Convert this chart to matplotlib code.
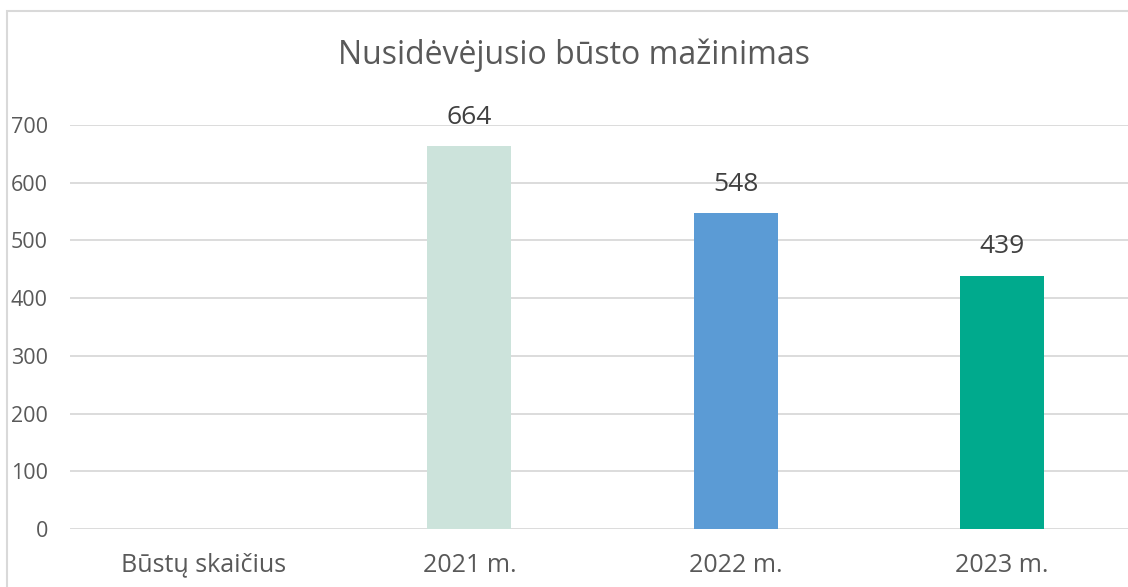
import matplotlib.pyplot as plt
from matplotlib.patches import Rectangle

categories = ['Būstų skaičius', '2021 m.', '2022 m.', '2023 m.']
values = [None, 664, 548, 439]
colors = ['#FFFFFF', '#CCE3DB', '#5B9BD5', '#00AA8D']
title = 'Nusidėvėjusio būsto mažinimas'

plt.rcParams['font.family'] = ['Open Sans', 'DejaVu Sans']

fig = plt.figure(figsize=(11.28, 5.87), dpi=100)
W, H = 1128, 587
ax = fig.add_axes([70 / W, 1 - 529 / H, (1135 - 70) / W, (529 - 125) / H])

# border round the chart, cut off at right and bottom like the screenshot
fig.patches.append(Rectangle((7 / W, -0.1), 1.2, 1 - 11 / H + 0.1,
                             transform=fig.transFigure, fill=False,
                             edgecolor='#D9D9D9', linewidth=1.5))

x = range(len(categories))
for i, v in enumerate(values):
    if v is None:
        continue
    ax.bar(i, v, width=0.316, color=colors[i], zorder=2)
    ax.text(i, v + 28, str(v), ha='center', va='bottom',
            fontsize=19, color='#404040')

ax.set_xlim(-0.5, len(categories) - 0.5)
ax.set_ylim(0, 700)
ax.set_yticks(range(0, 701, 100))
ax.set_xticks(list(x))
ax.set_xticklabels(categories)
ax.tick_params(axis='both', length=0, labelcolor='#595959')
ax.tick_params(axis='y', pad=16, labelsize=15.5)
ax.tick_params(axis='x', pad=17, labelsize=18)
ax.yaxis.grid(True, color='#D9D9D9', linewidth=1.3, zorder=0)
ax.set_axisbelow(True)
for s in ax.spines.values():
    s.set_visible(False)

fig.text(574 / W, 1 - 55 / H, title, ha='center', va='center',
         fontsize=23, color='#595959')

fig.savefig('out.png', dpi=100)
